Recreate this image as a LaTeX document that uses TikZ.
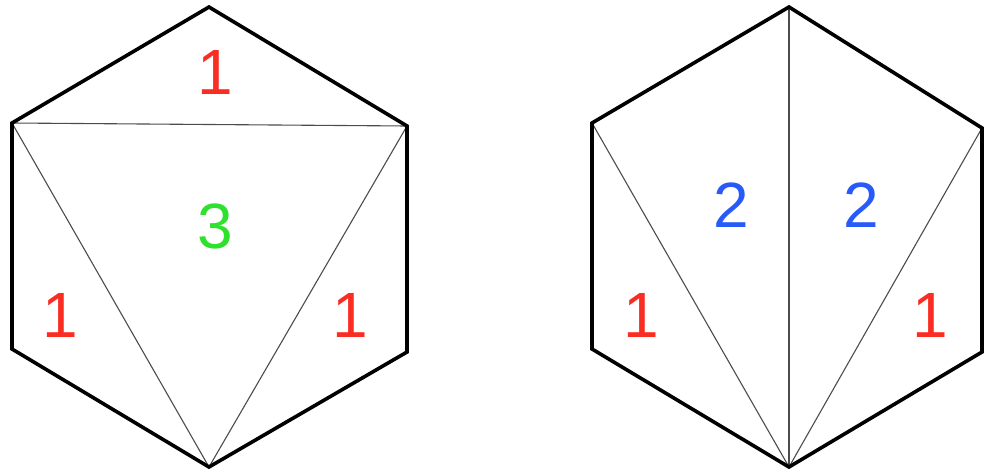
\documentclass[tikz,border=0pt]{standalone}
\usepackage{fontspec}
\setmainfont{Liberation Sans}
\usetikzlibrary{positioning}
\definecolor{numred}{RGB}{250,45,35}
\definecolor{numgreen}{RGB}{45,225,45}
\definecolor{numblue}{RGB}{40,90,250}
\tikzset{
  rim/.style={draw=black, line width=3.6pt, line join=miter},
  cut/.style={draw=black!70, line width=1.1pt},
  num/.style={inner sep=0pt, font=\fontsize{64}{64}\selectfont}
}

\begin{document}
\begin{tikzpicture}[x=1pt, y=-1pt]
\useasboundingbox (0,0) rectangle (985,474);
% left hexagon
\coordinate (lt) at (209,7);
\coordinate (lul) at (12,123);
\coordinate (lur) at (407,126);
\coordinate (lll) at (12,349);
\coordinate (llr) at (407,352);
\coordinate (lb) at (209,467);
\draw[cut] (lul) -- (lur);
\draw[cut] (lul) -- (lb);
\draw[cut] (lur) -- (lb);
\draw[rim] (lt) -- (lur) -- (llr) -- (lb) -- (lll) -- (lul) -- cycle;
\node[num, text=numred] (ltop) at (215,72) {1};
\node[num, text=numgreen] (lmid) at (215,226) {3};
\node[num, text=numred] (lleft) at (60,315) {1};
\node[num, text=numred] (lright) at (350,315) {1};
% right hexagon
\coordinate (rt) at (789,7);
\coordinate (rul) at (592,123);
\coordinate (rur) at (982,128);
\coordinate (rll) at (592,349);
\coordinate (rlr) at (982,352);
\coordinate (rb) at (789,467);
\draw[cut] (rt) -- (rb);
\draw[cut] (rul) -- (rb);
\draw[cut] (rur) -- (rb);
\draw[rim] (rt) -- (rur) -- (rlr) -- (rb) -- (rll) -- (rul) -- cycle;
\node[num, text=numblue] (rmidl) at (731,205) {2};
\node[num, text=numblue] (rmidr) at (861,205) {2};
\node[num, text=numred] (rleft) at (641,315) {1};
\node[num, text=numred] (rright) at (930,315) {1};
\end{tikzpicture}
\end{document}
